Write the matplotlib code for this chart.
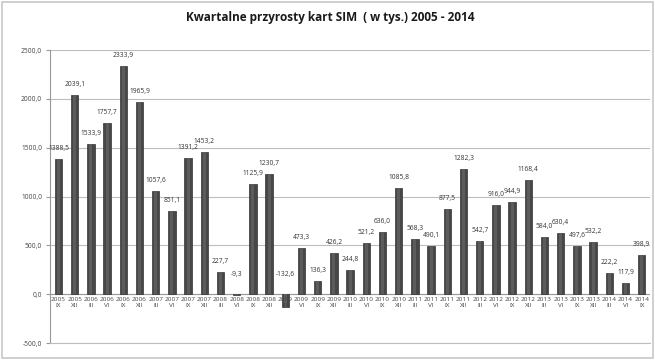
# Kwartalne przyrosty kart SIM - quarterly bar chart

import numpy as np
import matplotlib.pyplot as plt
from matplotlib.patches import Rectangle

# %% data
# -------

years = ['2005', '2005',
         '2006', '2006', '2006', '2006',
         '2007', '2007', '2007', '2007',
         '2008', '2008', '2008', '2008',
         '2009', '2009', '2009', '2009',
         '2010', '2010', '2010', '2010',
         '2011', '2011', '2011', '2011',
         '2012', '2012', '2012', '2012',
         '2013', '2013', '2013', '2013',
         '2014', '2014', '2014']
quarters = ['IX', 'XII'] + ['III', 'VI', 'IX', 'XII'] * 8 + ['III', 'VI', 'IX']
values = [1388.5, 2039.1,
          1533.9, 1757.7, 2333.9, 1965.9,
          1057.6, 851.1, 1391.2, 1453.2,
          227.7, -9.3, 1125.9, 1230.7,
          -132.6, 473.3, 136.3, 426.2,
          244.8, 521.2, 636.0, 1085.8,
          568.3, 490.1, 877.5, 1282.3,
          542.7, 916.0, 944.9, 1168.4,
          584.0, 630.4, 497.6, 532.2,
          222.2, 117.9, 398.9]

title = 'Kwartalne przyrosty kart SIM  ( w tys.) 2005 - 2014'

# %% figure
# ---------

plt.rcParams['font.family'] = ['Open Sans', 'DejaVu Sans']

fig = plt.figure(figsize=(6.55, 3.6), dpi=100)
ax = fig.add_axes([0.077, 0.047, 0.915, 0.814])

x = np.arange(len(values))
ax.bar(x, values, width=0.45, color='#474747', edgecolor='#333333',
       linewidth=0.5, zorder=3)
# lighter centre stripe for the cylinder look
ax.bar(x, values, width=0.18, color='#5c5c5c', linewidth=0, zorder=3)

# value labels
for xi, v in zip(x, values):
    txt = f'{v:.1f}'.replace('.', ',')
    y = max(v, 0)
    ax.annotate(txt, (xi, y), xytext=(0, 5 if v >= 0 else 12),
                textcoords='offset points', ha='center', va='bottom',
                fontsize=4.8, color='#333333', zorder=4)

# category labels below zero line
for xi, yr, q in zip(x, years, quarters):
    ax.annotate(f'{yr}\n{q}', (xi, 0), xytext=(0, -2),
                textcoords='offset points', ha='center', va='top',
                fontsize=4.6, color='#444444', linespacing=1.3, zorder=4)

ax.set_xlim(-0.5, len(values) - 0.5)
ax.set_ylim(-500, 2500)
ax.set_yticks(np.arange(-500, 2501, 500))
ax.set_yticklabels([f'{t:.1f}'.replace('.', ',') for t in np.arange(-500, 2501, 500)])
ax.tick_params(axis='y', labelsize=4.8, labelcolor='#444444', length=3,
               color='#999999', pad=3)
ax.set_xticks([])

ax.grid(axis='y', color='#bdbdbd', linewidth=0.8, zorder=0)
ax.axhline(0, color='#999999', linewidth=0.8, zorder=2)
for s in ['top', 'right']:
    ax.spines[s].set_visible(False)
ax.spines['left'].set_color('#999999')
ax.spines['bottom'].set_color('#bdbdbd')

fig.text(0.504, 0.95, title, ha='center', va='center', fontsize=8.5,
         fontweight='bold', color='#1a1a1a')

# outer border
fig.patches.append(Rectangle((0.003, 0.005), 0.994, 0.99, transform=fig.transFigure,
                             fill=False, edgecolor='#c8c8c8', linewidth=1.2))

plt.savefig('out.png', dpi=100)
